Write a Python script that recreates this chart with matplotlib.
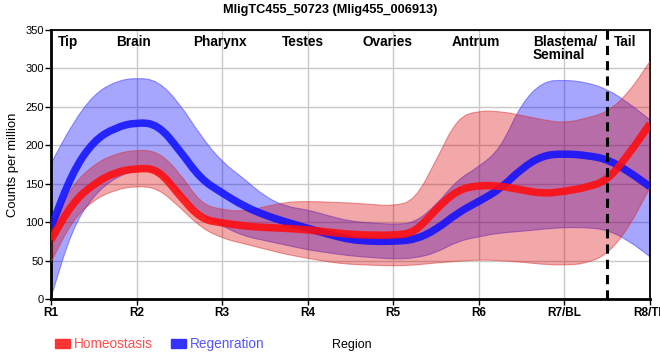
import numpy as np
import matplotlib
matplotlib.use("Agg")
import matplotlib.pyplot as plt
from matplotlib.path import Path
from matplotlib.patches import PathPatch

plt.rcParams['font.family'] = ['Liberation Sans', 'DejaVu Sans']

title = "MligTC455_50723 (Mlig455_006913)"
tick_labels = ["R1", "R2", "R3", "R4", "R5", "R6", "R7/BL", "R8/TL"]
region_names = ["Tip", "Brain", "Pharynx", "Testes", "Ovaries", "Antrum", "Blastema/\nSeminal", "Tail"]
region_pos = [0.2, 0.96, 1.98, 2.94, 3.93, 4.96, 5.63, 6.71]

# values read every quarter region (R1 .. R8/TL)
step = 0.25
homeo_mean = [77, 125, 150, 165, 170, 169, 135, 104, 99, 95, 93, 92, 90, 87, 84, 83, 83, 86,
              117, 142, 148, 147, 142, 137, 140, 145, 154, 188, 228]
homeo_low = [48, 102, 129, 142, 147, 144, 120, 93, 79, 72, 65, 58, 53, 48, 45, 44, 43, 44,
             47, 49, 51, 50, 48, 45, 44, 46, 58, 92, 145]
homeo_high = [96, 148, 175, 189, 194, 192, 165, 124, 116, 114, 120, 126, 127, 126, 125, 123, 121, 128,
              180, 236, 245, 244, 239, 233, 229, 235, 243, 268, 309]
regen_mean = [93, 165, 206, 223, 230, 227, 194, 156, 138, 121, 109, 100, 92, 84, 77, 75, 75, 77,
              90, 112, 127, 143, 170, 187, 189, 187, 182, 166, 146]
regen_low = [2, 92, 135, 158, 168, 166, 140, 110, 95, 82, 76, 70, 64, 60, 56, 54, 52, 53,
             60, 75, 81, 86, 88, 91, 93, 93, 90, 76, 55]
regen_high = [176, 228, 266, 283, 288, 284, 255, 212, 178, 157, 133, 120, 116, 108, 101, 99, 97, 99,
              122, 155, 172, 195, 255, 283, 285, 282, 273, 255, 233]

pos = np.arange(len(homeo_mean)) * step


def curve_segments(xs, ys, start_code=Path.MOVETO):
    pts = list(zip(xs, ys))
    verts = [pts[0]]
    codes = [start_code]
    verts.append(((pts[0][0] + pts[1][0]) / 2, (pts[0][1] + pts[1][1]) / 2))
    codes.append(Path.LINETO)
    for i in range(1, len(pts) - 1):
        nxt = ((pts[i][0] + pts[i + 1][0]) / 2, (pts[i][1] + pts[i + 1][1]) / 2)
        verts += [pts[i], nxt]
        codes += [Path.CURVE3, Path.CURVE3]
    verts.append(pts[-1])
    codes.append(Path.LINETO)
    return verts, codes


def line_path(xs, ys):
    v, c = curve_segments(xs, ys)
    return Path(v, c)


def band_path(xs, lo, hi):
    v1, c1 = curve_segments(xs, hi)
    v2, c2 = curve_segments(xs[::-1], lo[::-1], start_code=Path.LINETO)
    v = v1 + v2 + [v1[0]]
    c = c1 + c2 + [Path.CLOSEPOLY]
    return Path(v, c)


fig = plt.figure(figsize=(6.6, 3.6), dpi=100)
ax = fig.add_axes([51/660, 61/360, (650-51)/660, (299-30)/360])

ax.add_patch(PathPatch(band_path(pos, regen_low, regen_high), facecolor=(0, 0, 1.0, 0.35),
                       edgecolor=(0.3, 0.3, 1.0, 0.6), lw=0.8, zorder=2))
ax.add_patch(PathPatch(band_path(pos, homeo_low, homeo_high), facecolor=(0.85, 0.0, 0.0, 0.34),
                       edgecolor=(0.85, 0.2, 0.2, 0.5), lw=0.8, zorder=3))
ax.add_patch(PathPatch(line_path(pos, regen_mean), facecolor='none',
                       edgecolor=(0.05, 0.05, 1.0, 0.85), lw=5.4, capstyle='butt',
                       joinstyle='round', zorder=4))
ax.add_patch(PathPatch(line_path(pos, homeo_mean), facecolor='none',
                       edgecolor=(1.0, 0.05, 0.05, 0.88), lw=5.4, capstyle='butt',
                       joinstyle='round', zorder=5))

ax.axvline(6.5, color='black', lw=2.2, ls=(0, (3, 2)), zorder=6)

ax.set_xlim(0, 7)
ax.set_ylim(0, 350)
ax.set_yticks(np.arange(0, 351, 50))
ax.set_xticks(np.arange(len(tick_labels)))
ax.set_xticklabels(tick_labels, fontsize=8.5, fontweight='bold')
ax.tick_params(axis='y', labelsize=8, length=4, width=1, pad=1)
ax.tick_params(axis='x', length=4, width=1, pad=2)
ax.grid(True, color='#c8c8c8', lw=1, zorder=0)
ax.set_axisbelow(True)
for s in ['left', 'bottom']:
    ax.spines[s].set_linewidth(2)
for s in ['top', 'right']:
    ax.spines[s].set_linewidth(1.3)

for name, xp in zip(region_names, region_pos):
    ha = 'left' if '\n' in name else 'center'
    ax.text(xp, 0.982, name, transform=ax.get_xaxis_transform(), ha=ha, va='top',
            fontsize=9.8, fontweight='bold', linespacing=0.95)

ax.set_ylabel("Counts per million", fontsize=9.4, labelpad=5)
fig.text(0.5, 0.988, title, ha='center', va='top', fontsize=9.2, fontweight='bold')

# legend
fig.patches.append(plt.Rectangle((55/660, 1 - 348/360), 15/660, 9/360, transform=fig.transFigure,
                                 color='#ff3333', figure=fig))
fig.text(74/660, 1 - 344/360, "Homeostasis", color='#ff4d4d', fontsize=9.8, va='center', ha='left')
fig.patches.append(plt.Rectangle((171/660, 1 - 348/360), 15/660, 9/360, transform=fig.transFigure,
                                 color='#3333ff', figure=fig))
fig.text(190/660, 1 - 344/360, "Regenration", color='#5555ff', fontsize=9.8, va='center', ha='left')
fig.text(352/660, 1 - 345/360, "Region", color='black', fontsize=9, va='center', ha='center')

fig.savefig("out.png", dpi=100)
